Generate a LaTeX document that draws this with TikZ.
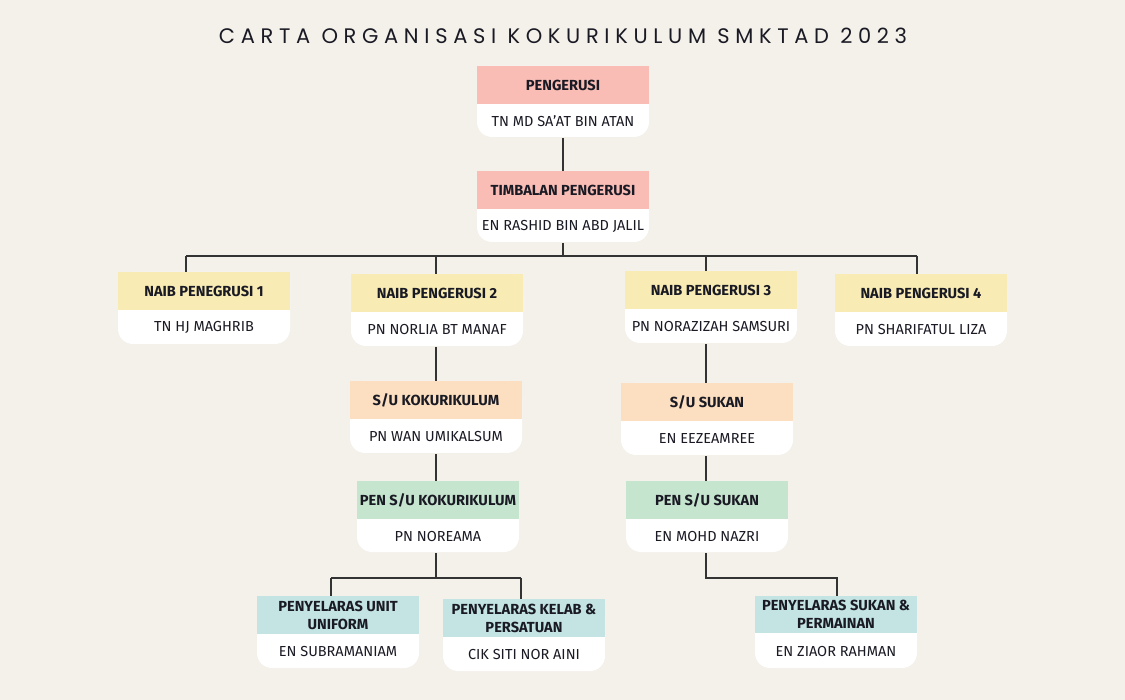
\documentclass[tikz,border=0pt]{standalone}
\usepackage{fontspec}
\setmainfont{Fira Sans}
\newfontfamily\titlefont[LetterSpace=27]{Poppins}
\definecolor{bg}{HTML}{F4F0EA}
\definecolor{cpink}{HTML}{F9BDB6}
\definecolor{cyellow}{HTML}{F8ECB4}
\definecolor{cpeach}{HTML}{FBDFC0}
\definecolor{cgreen}{HTML}{C6E5CE}
\definecolor{cteal}{HTML}{C3E4E2}
\definecolor{ink}{HTML}{1A1A24}
\definecolor{wire}{HTML}{333333}
\newcommand\orgbox[9]{%
  \fill[white, rounded corners=15pt] (#2-#4/2,#3) rectangle (#2+#4/2,#3+#5+#6);
  \node[hdr, fill=#7, minimum width=#4pt, minimum height=#5pt, anchor=north] (#1h) at (#2,#3) {#8};
  \node[bodytxt, minimum width=#4pt, minimum height=#6pt, anchor=north] (#1b) at (#1h.south) {#9};
}
\begin{document}
\begin{tikzpicture}[x=1pt,y=-1pt,
  hdr/.style={inner sep=0pt, text=ink, align=center, font=\bfseries\fontsize{14.6}{18}\selectfont},
  bodytxt/.style={inner sep=0pt, text=ink, align=center, font=\fontsize{14.5}{16}\selectfont},
  wireline/.style={draw=wire, line width=1.1pt}]
\fill[bg] (0,0) rectangle (1125,700);
\useasboundingbox (0,0) rectangle (1125,700);
\node[text=ink, font=\titlefont\fontsize{21}{21}\selectfont] (title) at (563,36) {CARTA ORGANISASI KOKURIKULUM SMKTAD 2023};
% boxes
\orgbox{p}{563}{66}{172}{38}{33}{cpink}{PENGERUSI}{TN MD SA'AT BIN ATAN}
\orgbox{t}{563}{171}{172}{38}{33}{cpink}{TIMBALAN PENGERUSI}{EN RASHID BIN ABD JALIL}
\orgbox{na}{204}{272}{172}{38}{34}{cyellow}{NAIB PENEGRUSI 1}{TN HJ MAGHRIB}
\orgbox{nb}{437}{274}{172}{38}{34}{cyellow}{NAIB PENGERUSI 2}{PN NORLIA BT MANAF}
\orgbox{nc}{711}{271}{172}{38}{34}{cyellow}{NAIB PENGERUSI 3}{PN NORAZIZAH SAMSURI}
\orgbox{nd}{921}{274}{172}{38}{34}{cyellow}{NAIB PENGERUSI 4}{PN SHARIFATUL LIZA}
\orgbox{sk}{436}{381}{172}{38}{34}{cpeach}{S/U KOKURIKULUM}{PN WAN UMIKALSUM}
\orgbox{ss}{707}{383}{172}{38}{34}{cpeach}{S/U SUKAN}{EN EEZEAMREE}
\orgbox{pk}{438}{481}{162}{38}{33}{cgreen}{PEN S/U KOKURIKULUM}{PN NOREAMA}
\orgbox{ps}{707}{481}{162}{38}{33}{cgreen}{PEN S/U SUKAN}{EN MOHD NAZRI}
\orgbox{uu}{338}{596}{162}{38}{34}{cteal}{PENYELARAS UNIT\\UNIFORM}{EN SUBRAMANIAM}
\orgbox{kp}{524}{599}{162}{38}{34}{cteal}{PENYELARAS KELAB \&\\PERSATUAN}{CIK SITI NOR AINI}
\orgbox{sp}{836}{596}{162}{37}{35}{cteal}{PENYELARAS SUKAN \&\\PERMAINAN}{EN ZIAOR RAHMAN}
% connector points
\coordinate (busL) at (186,256);
\coordinate (busR) at (917,256);
\coordinate (xb) at (436,256);
\coordinate (xc) at (706,256);
\coordinate (lowL) at (331,578);
\coordinate (lowR) at (521,578);
\coordinate (lowS) at (837,578);
% connectors
\draw[wireline] (pb.south) -- (th.north);
\draw[wireline] (tb.south) -- (tb.south |- busL);
\draw[wireline] (busL) -- (busR);
\draw[wireline] (busL) -- (busL |- nah.north);
\draw[wireline] (xb) -- (xb |- nbh.north);
\draw[wireline] (xc) -- (xc |- nch.north);
\draw[wireline] (busR) -- (busR |- ndh.north);
\draw[wireline] (xb |- nbb.south) -- (xb |- skh.north);
\draw[wireline] (xb |- skb.south) -- (xb |- pkh.north);
\draw[wireline] (xc |- ncb.south) -- (xc |- ssh.north);
\draw[wireline] (xc |- ssb.south) -- (xc |- psh.north);
\draw[wireline] (xb |- pkb.south) -- (xb |- lowL);
\draw[wireline] (lowL) -- (lowR);
\draw[wireline] (lowL) -- (lowL |- uuh.north);
\draw[wireline] (lowR) -- (lowR |- kph.north);
\draw[wireline] (xc |- psb.south) |- (lowS) -- (lowS |- sph.north);
\end{tikzpicture}
\end{document}
